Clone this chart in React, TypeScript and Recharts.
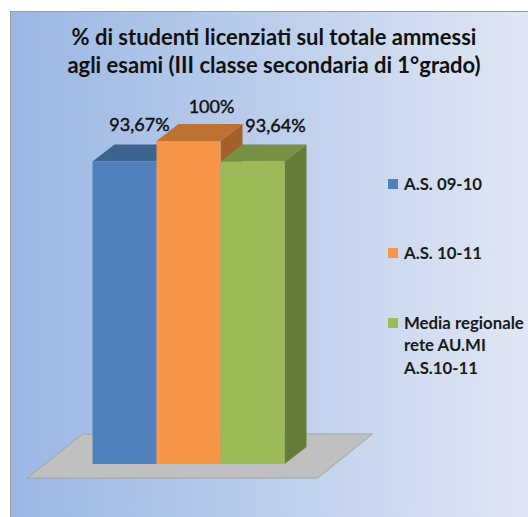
import { BarChart, Bar, XAxis, YAxis, Legend, ReferenceArea, LabelList } from "recharts";

const seriesNames = ["A.S. 09-10", "A.S. 10-11", "Media regionale rete AU.MI A.S.10-11"];
const seriesValues = [93.67, 100, 93.64];
const seriesLabels = ["93,67%", "100%", "93,64%"];
const titleLines = ["% di studenti licenziati sul totale ammessi", "agli esami (III classe secondaria di 1°grado)"];

const colors = [
  { front: "#4f81bd", top: "#3d6390", side: "#3d6390" },
  { front: "#f79646", top: "#bd7233", side: "#a36029" },
  { front: "#9bbb59", top: "#779044", side: "#667c39" },
];

const font = "Lato, 'Open Sans', sans-serif";
const depthX = 22;
const depthY = 17;
const labelShift = [15, 23, 23];
const labelY = [124, 106, 125];

const chartData = [
  {
    name: "esami",
    s0: seriesValues[0],
    s1: seriesValues[1],
    s2: seriesValues[2],
  },
];

function Box3D(props: any, idx: number) {
  const { x, y, width, height } = props;
  const c = colors[idx];
  const top = `${x},${y} ${x + width},${y} ${x + width + depthX},${y - depthY} ${x + depthX},${y - depthY}`;
  const side = `${x + width},${y} ${x + width + depthX},${y - depthY} ${x + width + depthX},${y + height - depthY} ${x + width},${y + height}`;
  return (
    <g>
      <polygon points={side} fill={c.side} />
      <polygon points={top} fill={c.top} />
      <rect x={x} y={y} width={width} height={height} fill={c.front} />
    </g>
  );
}

function Floor(props: any) {
  const { x, y, width, height } = props;
  const bottom = y + height + 14;
  const left = x - 65;
  const right = x + width + 32;
  const pts = `${left},${bottom} ${right},${bottom} ${right + 55},${bottom - 44} ${left + 55},${bottom - 44}`;
  return <polygon points={pts} fill="#c0c0c0" stroke="#a3a3a3" strokeWidth={1} />;
}

function ValueLabel(props: any, idx: number) {
  const { x, width } = props;
  return (
    <text
      x={x + width / 2 + labelShift[idx]}
      y={labelY[idx]}
      textAnchor="middle"
      dominantBaseline="central"
      fontFamily={font}
      fontSize={18}
      fill="#111"
      stroke="#111"
      strokeWidth={0.45}
    >
      {seriesLabels[idx]}
    </text>
  );
}

function LegendBox() {
  const rows = [
    { top: 0, lines: [seriesNames[0]] },
    { top: 69, lines: [seriesNames[1]] },
    { top: 139, lines: ["Media regionale", "rete AU.MI", "A.S.10-11"] },
  ];
  // height 0 so the legend does not take room from the plot
  return (
    <div style={{ position: "relative", width: 150, height: 0, fontFamily: font, fontSize: 16.8, fontWeight: 700, color: "#1a1a1a" }}>
      {rows.map((r, i) => (
        <div key={i} style={{ position: "absolute", top: r.top, left: 0 }}>
          <div style={{ position: "absolute", left: 0, top: 6, width: 10, height: 10, background: colors[i].front }} />
          <div style={{ marginLeft: 16, lineHeight: "22.5px", whiteSpace: "nowrap" }}>
            {r.lines.map((l) => (
              <div key={l}>{l}</div>
            ))}
          </div>
        </div>
      ))}
    </div>
  );
}

export default function App() {
  return (
    <div
      style={{
        position: "absolute",
        left: 0,
        top: 0,
        width: 528,
        height: 517,
        background: "#fff",
        overflow: "hidden",
      }}
    >
      <div
        style={{
          position: "absolute",
          left: 10,
          top: 11,
          width: 518,
          height: 506,
          boxSizing: "border-box",
          borderLeft: "1.5px solid #9a9a9a",
          borderTop: "1.5px solid #9a9a9a",
          background: "linear-gradient(90deg, #9bb7e4 0%, #bfd0ec 55%, #e0e7f4 100%)",
        }}
      />
      <div style={{ position: "absolute", left: 0, top: 0 }}>
        <BarChart
          width={528}
          height={517}
          data={chartData}
          barGap={0}
          barCategoryGap={0}
          margin={{ top: 141, right: 242.5, bottom: 53, left: 92.5 }}
        >
          <XAxis dataKey="name" hide />
          <YAxis domain={[0, 100]} hide />
          <ReferenceArea y1={0} y2={100} shape={Floor} ifOverflow="visible" />
          <Bar dataKey="s0" name={seriesNames[0]} isAnimationActive={false} shape={(p: any) => Box3D(p, 0)}>
            <LabelList dataKey="s0" content={(p: any) => ValueLabel(p, 0)} />
          </Bar>
          <Bar dataKey="s1" name={seriesNames[1]} isAnimationActive={false} shape={(p: any) => Box3D(p, 1)}>
            <LabelList dataKey="s1" content={(p: any) => ValueLabel(p, 1)} />
          </Bar>
          <Bar dataKey="s2" name={seriesNames[2]} isAnimationActive={false} shape={(p: any) => Box3D(p, 2)}>
            <LabelList dataKey="s2" content={(p: any) => ValueLabel(p, 2)} />
          </Bar>
          <Legend
            layout="vertical"
            content={<LegendBox />}
            wrapperStyle={{ position: "absolute", left: 388, top: 172.5, width: 150 }}
          />
          <text textAnchor="middle" fontFamily={font} fontSize={22} fontWeight={700} fill="#111">
            <tspan x={274} y={45}>{titleLines[0]}</tspan>
            <tspan x={274} y={73}>{titleLines[1]}</tspan>
          </text>
        </BarChart>
      </div>
    </div>
  );
}
